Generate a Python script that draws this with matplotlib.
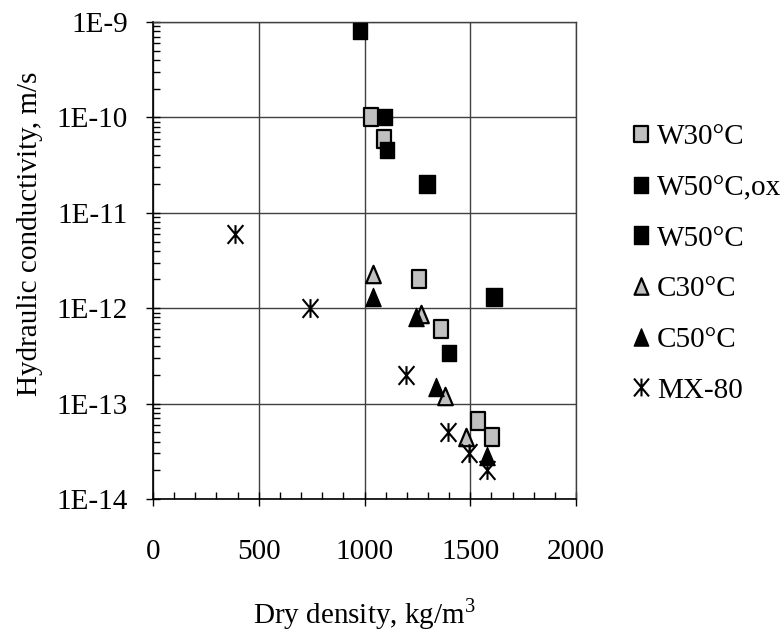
import numpy as np
import matplotlib
matplotlib.use("Agg")
import matplotlib.pyplot as plt
from matplotlib.path import Path
from matplotlib.ticker import MultipleLocator, LogLocator, FuncFormatter, NullFormatter

plt.rcParams['font.family'] = ['Liberation Serif', 'DejaVu Serif']
plt.rcParams['mathtext.fontset'] = 'custom'
plt.rcParams['mathtext.rm'] = 'Liberation Serif'

# data
w30_x = [1030, 1090, 1260, 1360, 1535, 1605]
w30_y = [1e-10, 6e-11, 2e-12, 6e-13, 6.5e-14, 4.5e-14]
w50ox_x = [980, 1095, 1105, 1400]
w50ox_y = [8e-10, 1e-10, 4.5e-11, 3.4e-13]
w50_x = [1295, 1610]
w50_y = [2e-11, 1.3e-12]
c30_x = [1040, 1265, 1380, 1480]
c30_y = [2.3e-12, 8.7e-13, 1.2e-13, 4.5e-14]
c50_x = [1040, 1245, 1340, 1580]
c50_y = [1.3e-12, 8.1e-13, 1.5e-13, 2.8e-14]
mx_x = [390, 740, 1195, 1395, 1495, 1580]
mx_y = [6e-12, 1e-12, 2e-13, 5e-14, 3e-14, 2e-14]

# excel-like marker shapes (a bit taller than wide)
rect = Path([(-0.43, -0.5), (0.43, -0.5), (0.43, 0.5), (-0.43, 0.5), (-0.43, -0.5)],
            [Path.MOVETO, Path.LINETO, Path.LINETO, Path.LINETO, Path.CLOSEPOLY])
tri = Path([(0, 0.5), (-0.42, -0.5), (0.42, -0.5), (0, 0.5)],
           [Path.MOVETO, Path.LINETO, Path.LINETO, Path.CLOSEPOLY])
star = Path([(0, -0.5), (0, 0.5), (-0.42, -0.5), (0.42, 0.5), (-0.42, 0.5), (0.42, -0.5)],
            [Path.MOVETO, Path.LINETO, Path.MOVETO, Path.LINETO, Path.MOVETO, Path.LINETO])

fig = plt.figure(figsize=(7.84, 6.43), dpi=100)
ax = fig.add_axes([153 / 784, 1 - 499 / 643, 423 / 784, 477 / 643])

gray = '#c0c0c0'
ax.plot(w30_x, w30_y, ls='none', marker=rect, ms=12.5, mfc=gray, mec='black', mew=1.6, label='W30°C', zorder=3)
ax.plot(w50ox_x, w50ox_y, ls='none', marker=rect, ms=11.5, mfc='black', mec='black', mew=1, label='W50°C,ox', zorder=3)
ax.plot(w50_x, w50_y, ls='none', marker=rect, ms=13, mfc='black', mec='black', mew=1, label='W50°C', zorder=3)
ax.plot(c30_x, c30_y, ls='none', marker=tri, ms=12.5, mfc=gray, mec='black', mew=1.6, label='C30°C', zorder=3)
ax.plot(c50_x, c50_y, ls='none', marker=tri, ms=13, mfc='black', mec='black', mew=1, label='C50°C', zorder=3)
ax.plot(mx_x, mx_y, ls='none', marker=star, ms=13.5, mfc='none', mec='black', mew=1.5, label='MX-80', zorder=3)

ax.set_yscale('log')
ax.set_xlim(0, 2000)
ax.set_ylim(1e-14, 1e-9)

ax.xaxis.set_major_locator(MultipleLocator(500))
ax.xaxis.set_minor_locator(MultipleLocator(100))
ax.yaxis.set_major_locator(LogLocator(base=10, numticks=10))
ax.yaxis.set_minor_locator(LogLocator(base=10, subs=np.arange(2, 10), numticks=20))
ax.yaxis.set_major_formatter(FuncFormatter(lambda v, p: f"1E{int(round(np.log10(v)))}"))
ax.yaxis.set_minor_formatter(NullFormatter())

ax.grid(True, which='major', color='#404040', lw=1)
ax.tick_params(which='major', direction='inout', length=10, width=1, labelsize=21)
ax.tick_params(which='minor', direction='in', length=5, width=1)
ax.tick_params(axis='x', which='major', pad=24)
ax.tick_params(axis='y', which='major', pad=13)

for side in ['top', 'right']:
    ax.spines[side].set_color('#404040')
    ax.spines[side].set_linewidth(1)
for side in ['left', 'bottom']:
    ax.spines[side].set_color('black')
    ax.spines[side].set_linewidth(1.2)

ax.set_xlabel('Dry density, kg/m$^3$', fontsize=21, labelpad=22)
ax.set_ylabel('Hydraulic conductivity, m/s', fontsize=21)
ax.yaxis.set_label_coords(-0.26, 0.555)

ax.legend(loc='upper left', bbox_to_anchor=(632 / 784, 1 - 124 / 643), bbox_transform=fig.transFigure,
          frameon=False, fontsize=21, handlelength=0.65, handletextpad=0.2, labelspacing=0.83,
          borderaxespad=0, borderpad=0, markerscale=0.95)

fig.savefig('out.png', dpi=100)
